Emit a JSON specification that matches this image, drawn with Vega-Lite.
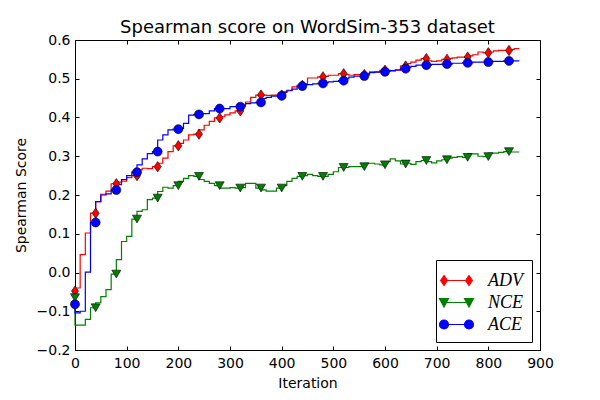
{
  "$schema": "https://vega.github.io/schema/vega-lite/v6.json",
  "width": 465,
  "height": 310,
  "autosize": "none",
  "padding": {"left": 75, "top": 40, "right": 60, "bottom": 50},
  "background": "white",
  "config": {
    "view": {"stroke": "black", "strokeWidth": 1},
    "font": "DejaVu Sans",
    "axis": {
      "grid": false,
      "domain": false,
      "tickColor": "black",
      "tickSize": -4,
      "tickWidth": 1,
      "labelColor": "black",
      "labelFont": "DejaVu Sans",
      "labelFontSize": 14,
      "labelFlush": false,
      "labelOverlap": false,
      "titleColor": "black",
      "titleFont": "DejaVu Sans",
      "titleFontSize": 14,
      "titleFontWeight": "normal"
    }
  },
  "title": {
    "text": "Spearman score on WordSim-353 dataset",
    "font": "DejaVu Sans",
    "fontSize": 18,
    "fontWeight": "normal",
    "color": "black",
    "anchor": "middle",
    "frame": "group",
    "offset": -4
  },
  "data": {
    "values": [
      {"i": 0, "ADV": -0.048, "NCE": -0.065, "ACE": -0.082},
      {"i": 10, "ADV": -0.04, "NCE": -0.136, "ACE": -0.104},
      {"i": 20, "ADV": 0.046, "NCE": -0.136, "ACE": -0.1},
      {"i": 30, "ADV": 0.102, "NCE": -0.121, "ACE": 0.001},
      {"i": 40, "ADV": 0.153, "NCE": -0.091, "ACE": 0.129},
      {"i": 50, "ADV": 0.183, "NCE": -0.078, "ACE": 0.183},
      {"i": 60, "ADV": 0.202, "NCE": -0.062, "ACE": 0.2},
      {"i": 70, "ADV": 0.21, "NCE": -0.044, "ACE": 0.203},
      {"i": 80, "ADV": 0.229, "NCE": -0.004, "ACE": 0.213},
      {"i": 90, "ADV": 0.233, "NCE": 0.033, "ACE": 0.227},
      {"i": 100, "ADV": 0.236, "NCE": 0.08, "ACE": 0.24},
      {"i": 110, "ADV": 0.245, "NCE": 0.093, "ACE": 0.25},
      {"i": 120, "ADV": 0.25, "NCE": 0.138, "ACE": 0.259},
      {"i": 130, "ADV": 0.265, "NCE": 0.158, "ACE": 0.278},
      {"i": 140, "ADV": 0.269, "NCE": 0.162, "ACE": 0.293},
      {"i": 150, "ADV": 0.268, "NCE": 0.188, "ACE": 0.307},
      {"i": 160, "ADV": 0.273, "NCE": 0.192, "ACE": 0.312},
      {"i": 170, "ADV": 0.282, "NCE": 0.209, "ACE": 0.342},
      {"i": 180, "ADV": 0.295, "NCE": 0.22, "ACE": 0.355},
      {"i": 190, "ADV": 0.312, "NCE": 0.218, "ACE": 0.368},
      {"i": 200, "ADV": 0.327, "NCE": 0.224, "ACE": 0.37},
      {"i": 210, "ADV": 0.333, "NCE": 0.235, "ACE": 0.372},
      {"i": 220, "ADV": 0.342, "NCE": 0.243, "ACE": 0.385},
      {"i": 230, "ADV": 0.355, "NCE": 0.25, "ACE": 0.406},
      {"i": 240, "ADV": 0.357, "NCE": 0.248, "ACE": 0.408},
      {"i": 250, "ADV": 0.368, "NCE": 0.24, "ACE": 0.41},
      {"i": 260, "ADV": 0.38, "NCE": 0.235, "ACE": 0.41},
      {"i": 270, "ADV": 0.39, "NCE": 0.23, "ACE": 0.417},
      {"i": 280, "ADV": 0.399, "NCE": 0.224, "ACE": 0.423},
      {"i": 290, "ADV": 0.402, "NCE": 0.218, "ACE": 0.423},
      {"i": 300, "ADV": 0.407, "NCE": 0.218, "ACE": 0.423},
      {"i": 310, "ADV": 0.412, "NCE": 0.219, "ACE": 0.428},
      {"i": 320, "ADV": 0.417, "NCE": 0.218, "ACE": 0.428},
      {"i": 330, "ADV": 0.428, "NCE": 0.219, "ACE": 0.432},
      {"i": 340, "ADV": 0.44, "NCE": 0.23, "ACE": 0.436},
      {"i": 350, "ADV": 0.452, "NCE": 0.23, "ACE": 0.438},
      {"i": 360, "ADV": 0.458, "NCE": 0.218, "ACE": 0.439},
      {"i": 370, "ADV": 0.458, "NCE": 0.213, "ACE": 0.449},
      {"i": 380, "ADV": 0.457, "NCE": 0.21, "ACE": 0.452},
      {"i": 390, "ADV": 0.458, "NCE": 0.21, "ACE": 0.455},
      {"i": 400, "ADV": 0.458, "NCE": 0.218, "ACE": 0.456},
      {"i": 410, "ADV": 0.466, "NCE": 0.224, "ACE": 0.465},
      {"i": 420, "ADV": 0.47, "NCE": 0.235, "ACE": 0.469},
      {"i": 430, "ADV": 0.479, "NCE": 0.243, "ACE": 0.473},
      {"i": 440, "ADV": 0.483, "NCE": 0.248, "ACE": 0.481},
      {"i": 450, "ADV": 0.487, "NCE": 0.25, "ACE": 0.484},
      {"i": 460, "ADV": 0.502, "NCE": 0.253, "ACE": 0.485},
      {"i": 470, "ADV": 0.502, "NCE": 0.25, "ACE": 0.487},
      {"i": 480, "ADV": 0.505, "NCE": 0.248, "ACE": 0.488},
      {"i": 490, "ADV": 0.506, "NCE": 0.248, "ACE": 0.49},
      {"i": 500, "ADV": 0.509, "NCE": 0.253, "ACE": 0.492},
      {"i": 510, "ADV": 0.509, "NCE": 0.26, "ACE": 0.493},
      {"i": 520, "ADV": 0.513, "NCE": 0.271, "ACE": 0.495},
      {"i": 530, "ADV": 0.511, "NCE": 0.271, "ACE": 0.5},
      {"i": 540, "ADV": 0.509, "NCE": 0.273, "ACE": 0.504},
      {"i": 550, "ADV": 0.511, "NCE": 0.273, "ACE": 0.507},
      {"i": 560, "ADV": 0.511, "NCE": 0.273, "ACE": 0.507},
      {"i": 570, "ADV": 0.513, "NCE": 0.282, "ACE": 0.51},
      {"i": 580, "ADV": 0.518, "NCE": 0.282, "ACE": 0.516},
      {"i": 590, "ADV": 0.518, "NCE": 0.28, "ACE": 0.517},
      {"i": 600, "ADV": 0.522, "NCE": 0.278, "ACE": 0.518},
      {"i": 610, "ADV": 0.522, "NCE": 0.286, "ACE": 0.519},
      {"i": 620, "ADV": 0.52, "NCE": 0.293, "ACE": 0.521},
      {"i": 630, "ADV": 0.522, "NCE": 0.288, "ACE": 0.523},
      {"i": 640, "ADV": 0.533, "NCE": 0.28, "ACE": 0.526},
      {"i": 650, "ADV": 0.539, "NCE": 0.282, "ACE": 0.529},
      {"i": 660, "ADV": 0.543, "NCE": 0.279, "ACE": 0.532},
      {"i": 670, "ADV": 0.548, "NCE": 0.286, "ACE": 0.535},
      {"i": 680, "ADV": 0.552, "NCE": 0.289, "ACE": 0.535},
      {"i": 690, "ADV": 0.546, "NCE": 0.286, "ACE": 0.535},
      {"i": 700, "ADV": 0.545, "NCE": 0.283, "ACE": 0.537},
      {"i": 710, "ADV": 0.546, "NCE": 0.288, "ACE": 0.537},
      {"i": 720, "ADV": 0.55, "NCE": 0.291, "ACE": 0.538},
      {"i": 730, "ADV": 0.552, "NCE": 0.295, "ACE": 0.538},
      {"i": 740, "ADV": 0.554, "NCE": 0.297, "ACE": 0.54},
      {"i": 750, "ADV": 0.556, "NCE": 0.299, "ACE": 0.54},
      {"i": 760, "ADV": 0.556, "NCE": 0.297, "ACE": 0.541},
      {"i": 770, "ADV": 0.559, "NCE": 0.306, "ACE": 0.541},
      {"i": 780, "ADV": 0.562, "NCE": 0.306, "ACE": 0.543},
      {"i": 790, "ADV": 0.569, "NCE": 0.3, "ACE": 0.543},
      {"i": 800, "ADV": 0.567, "NCE": 0.299, "ACE": 0.543},
      {"i": 810, "ADV": 0.569, "NCE": 0.308, "ACE": 0.544},
      {"i": 820, "ADV": 0.572, "NCE": 0.308, "ACE": 0.545},
      {"i": 830, "ADV": 0.573, "NCE": 0.31, "ACE": 0.545},
      {"i": 840, "ADV": 0.573, "NCE": 0.312, "ACE": 0.546},
      {"i": 850, "ADV": 0.575, "NCE": 0.311, "ACE": 0.546},
      {"i": 860, "ADV": 0.578, "NCE": 0.311, "ACE": 0.546}
    ]
  },
  "transform": [{"fold": ["ADV", "NCE", "ACE"], "as": ["series", "score"]}],
  "layer": [
    {
      "mark": {"type": "line", "interpolate": "step-before", "strokeWidth": 1.2},
      "encoding": {
        "x": {
          "field": "i",
          "type": "quantitative",
          "scale": {"domain": [0, 900], "nice": false},
          "axis": {
            "orient": "bottom",
            "title": "Iteration",
            "values": [0, 100, 200, 300, 400, 500, 600, 700, 800, 900],
            "format": "d",
            "labelPadding": 10,
            "titlePadding": 6
          }
        },
        "y": {
          "field": "score",
          "type": "quantitative",
          "scale": {"domain": [-0.2, 0.6], "nice": false, "zero": false},
          "axis": {
            "orient": "left",
            "title": "Spearman Score",
            "values": [-0.2, -0.1, 0, 0.1, 0.2, 0.3, 0.4, 0.5, 0.6],
            "format": ".1f",
            "labelPadding": 9,
            "titlePadding": 8
          }
        },
        "color": {
          "field": "series",
          "type": "nominal",
          "scale": {"domain": ["ADV", "NCE", "ACE"], "range": ["#ff0000", "#008000", "#0000ff"]},
          "legend": {
            "title": null,
            "orient": "bottom-right",
            "offset": 8,
            "padding": 8,
            "strokeColor": "black",
            "fillColor": "white",
            "cornerRadius": 0,
            "symbolSize": 529,
            "rowPadding": 0,
            "labelOffset": 19,
            "labelFont": "Liberation Serif",
            "labelFontStyle": "italic",
            "labelFontSize": 18,
            "labelColor": "black",
            "encode": {
              "symbols": {
                "update": {
                  "shape": {"signal": "datum.value === 'ADV' ? 'M-1.087,0L1.087,0M-1.087,-0.435L-0.797,0L-1.087,0.435L-1.377,0ZM1.087,-0.435L1.377,0L1.087,0.435L0.797,0Z' : datum.value === 'NCE' ? 'M-1.087,0L1.087,0M-1.477,-0.33L-0.697,-0.33L-1.087,0.39ZM0.697,-0.33L1.477,-0.33L1.087,0.39Z' : 'M-1.087,0L1.087,0M-1.477,0A0.39,0.39 0 1,0 -0.697,0A0.39,0.39 0 1,0 -1.477,0ZM0.697,0A0.39,0.39 0 1,0 1.477,0A0.39,0.39 0 1,0 0.697,0Z'"},
                  "fill": {"signal": "datum.value === 'ADV' ? '#ff0000' : datum.value === 'NCE' ? '#008000' : '#0000ff'"},
                  "stroke": {"signal": "datum.value === 'ADV' ? '#ff0000' : datum.value === 'NCE' ? '#008000' : '#0000ff'"},
                  "strokeWidth": {"value": 1.2},
                  "opacity": {"value": 1}
                }
              }
            }
          }
        }
      }
    },
    {
      "transform": [{"filter": "datum.i % 40 == 0 && datum.series == 'ADV'"}],
      "mark": {"type": "point", "shape": "M0,-1.15L0.78,0L0,1.15L-0.78,0Z", "filled": true, "stroke": "black", "strokeWidth": 0.6, "opacity": 1, "size": 81},
      "encoding": {
        "x": {
          "field": "i",
          "type": "quantitative",
          "axis": {
            "orient": "top",
            "title": null,
            "labels": false,
            "values": [0, 100, 200, 300, 400, 500, 600, 700, 800, 900]
          }
        },
        "y": {
          "field": "score",
          "type": "quantitative",
          "axis": {
            "orient": "right",
            "title": null,
            "labels": false,
            "values": [-0.2, -0.1, 0, 0.1, 0.2, 0.3, 0.4, 0.5, 0.6]
          }
        },
        "color": {"field": "series", "type": "nominal", "legend": null}
      }
    },
    {
      "transform": [{"filter": "datum.i % 40 == 0 && datum.series == 'NCE'"}],
      "mark": {"type": "point", "shape": "triangle-down", "filled": true, "stroke": "black", "strokeWidth": 0.6, "opacity": 1, "size": 81},
      "encoding": {
        "x": {"field": "i", "type": "quantitative", "axis": null},
        "y": {"field": "score", "type": "quantitative", "axis": null},
        "color": {"field": "series", "type": "nominal", "legend": null}
      }
    },
    {
      "transform": [{"filter": "datum.i % 40 == 0 && datum.series == 'ACE'"}],
      "mark": {"type": "point", "shape": "circle", "filled": true, "stroke": "black", "strokeWidth": 0.6, "opacity": 1, "size": 81},
      "encoding": {
        "x": {"field": "i", "type": "quantitative", "axis": null},
        "y": {"field": "score", "type": "quantitative", "axis": null},
        "color": {"field": "series", "type": "nominal", "legend": null}
      }
    }
  ],
  "resolve": {"axis": {"x": "independent", "y": "independent"}}
}
